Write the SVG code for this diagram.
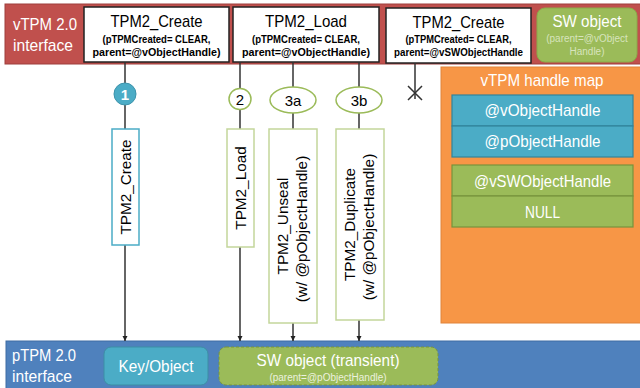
<svg xmlns="http://www.w3.org/2000/svg" width="640" height="388" viewBox="0 0 640 388">
<defs>
<marker id="arr" viewBox="0 0 10 10" refX="10" refY="5" markerWidth="5" markerHeight="6" markerUnits="userSpaceOnUse" orient="auto"><path d="M0,0 L10,5 L0,10 z" fill="#222"/></marker>
<style>
text{font-family:"Liberation Sans",Arial,sans-serif}
.w{fill:#fff}
.k{fill:#000}
.t{font-size:15.3px}
.h{font-size:17px}
.b{font-size:10.5px;font-weight:bold;fill:#000}
.sm{font-size:10px}
.c{text-anchor:middle}
.cmd{fill:#fff;stroke:#222;stroke-width:1.5}
.vb{fill:#fff;stroke:#C3D69B;stroke-width:1.5}
.ln{stroke:#333;stroke-width:1.5;fill:none}
.row{stroke-width:1.2}
.num{font-size:15px}
</style>
</defs>
<!-- bars -->
<g id="vtpm-bar">
<rect x="5" y="4" width="636" height="60" fill="#C0504D" stroke="#9E3F3C" stroke-width="1"/>
<text class="h w" x="13" y="30" textLength="64" lengthAdjust="spacingAndGlyphs">vTPM 2.0</text>
<text class="h w" x="13" y="51" textLength="60" lengthAdjust="spacingAndGlyphs">interface</text>
</g>
<g id="ptpm-bar">
<rect x="6" y="341" width="635" height="48" fill="#4F81BD" stroke="#3F6CA3" stroke-width="1"/>
<text class="h w" x="12" y="361" textLength="64" lengthAdjust="spacingAndGlyphs">pTPM 2.0</text>
<text class="h w" x="12" y="382" textLength="60" lengthAdjust="spacingAndGlyphs">interface</text>
</g>
<!-- top command boxes -->
<g id="cmd1">
<rect class="cmd" x="84" y="7" width="145" height="55"/>
<text class="h k c" x="156.5" y="27" textLength="92" lengthAdjust="spacingAndGlyphs">TPM2_Create</text>
<text class="b c" x="156.5" y="43" textLength="108" lengthAdjust="spacingAndGlyphs">(pTPMCreated= CLEAR,</text>
<text class="b c" x="156.5" y="56" textLength="128" lengthAdjust="spacingAndGlyphs">parent=@vObjectHandle)</text>
</g>
<g id="cmd2">
<rect class="cmd" x="233" y="7" width="146" height="55"/>
<text class="h k c" x="306" y="27" textLength="82" lengthAdjust="spacingAndGlyphs">TPM2_Load</text>
<text class="b c" x="306" y="43" textLength="108" lengthAdjust="spacingAndGlyphs">(pTPMCreated= CLEAR,</text>
<text class="b c" x="306" y="56" textLength="128" lengthAdjust="spacingAndGlyphs">parent=@vObjectHandle)</text>
</g>
<g id="cmd3">
<rect class="cmd" x="386" y="8" width="145" height="55"/>
<text class="h k c" x="458.5" y="28" textLength="92" lengthAdjust="spacingAndGlyphs">TPM2_Create</text>
<text class="b c" x="458.5" y="43" textLength="106" lengthAdjust="spacingAndGlyphs">(pTPMCreated= CLEAR,</text>
<text class="b c" x="458.5" y="56" textLength="129" lengthAdjust="spacingAndGlyphs">parent=@vSWObjectHandle</text>
</g>
<g id="sw-top">
<rect x="537" y="8" width="100" height="54" rx="8" fill="#9BBB59" stroke="#8AAA4A" stroke-width="1"/>
<text class="h w c" x="587" y="27" textLength="69" lengthAdjust="spacingAndGlyphs">SW object</text>
<text class="sm c" x="587" y="42" fill="#D7E4BD">(parent=@vObject</text>
<text class="sm c" x="587" y="55" fill="#D7E4BD">Handle)</text>
</g>
<!-- connectors -->
<g id="connectors">
<line class="ln" x1="125" y1="62" x2="125" y2="83"/>
<line class="ln" x1="125" y1="105" x2="125" y2="129"/>
<line class="ln" x1="125" y1="245" x2="125" y2="341" marker-end="url(#arr)"/>
<line class="ln" x1="240" y1="62" x2="240" y2="88"/>
<line class="ln" x1="240" y1="110" x2="240" y2="129"/>
<line class="ln" x1="240" y1="247" x2="240" y2="341" marker-end="url(#arr)"/>
<line class="ln" x1="293" y1="62" x2="293" y2="87"/>
<line class="ln" x1="293" y1="113" x2="293" y2="129"/>
<line class="ln" x1="293" y1="323" x2="293" y2="341" marker-end="url(#arr)"/>
<line class="ln" x1="359" y1="62" x2="359" y2="87"/>
<line class="ln" x1="359" y1="113" x2="359" y2="129"/>
<line class="ln" x1="359" y1="320" x2="359" y2="341" marker-end="url(#arr)"/>
<line class="ln" x1="415" y1="63" x2="415" y2="99"/>
<path class="ln" d="M408,86 L422,100 M422,86 L408,100"/>
</g>
<!-- step markers -->
<g id="step1">
<circle cx="125" cy="94" r="11" fill="#4BACC6" stroke="#3D93AB" stroke-width="1"/>
<text class="w c num" x="125" y="99.5" style="font-weight:bold">1</text>
</g>
<g id="step2">
<ellipse cx="240" cy="99" rx="11" ry="10.5" fill="#fff" stroke="#9BBB59" stroke-width="1.5"/>
<text class="k c num" x="240" y="104.5">2</text>
</g>
<g id="step3a">
<ellipse cx="293" cy="100" rx="23" ry="13" fill="#fff" stroke="#9BBB59" stroke-width="1.5"/>
<text class="k c num" x="293" y="105.5">3a</text>
</g>
<g id="step3b">
<ellipse cx="359" cy="100" rx="23" ry="13" fill="#fff" stroke="#9BBB59" stroke-width="1.5"/>
<text class="k c num" x="359" y="105.5">3b</text>
</g>
<!-- vertical boxes -->
<g id="v-create">
<rect x="112" y="129" width="27" height="116" fill="#fff" stroke="#4BACC6" stroke-width="1.5"/>
<text class="t k c" transform="translate(131,187) rotate(-90)">TPM2_Create</text>
</g>
<g id="v-load">
<rect class="vb" x="227" y="129" width="27" height="118"/>
<text class="t k c" transform="translate(246,188) rotate(-90)">TPM2_Load</text>
</g>
<g id="v-unseal">
<rect class="vb" x="269" y="129" width="48" height="194"/>
<text class="t k c" transform="translate(288,226) rotate(-90)">TPM2_Unseal</text>
<text class="t k c" transform="translate(307,229) rotate(-90)">(w/ @pObjectHandle)</text>
</g>
<g id="v-duplicate">
<rect class="vb" x="336" y="129" width="48" height="191"/>
<text class="t k c" transform="translate(355,224.5) rotate(-90)">TPM2_Duplicate</text>
<text class="t k c" transform="translate(374,227) rotate(-90)">(w/ @pObjectHandle)</text>
</g>
<!-- handle map -->
<g id="handle-map">
<rect x="441" y="67" width="200" height="256" fill="#F79646" stroke="#E0833A" stroke-width="1"/>
<text class="h w c" x="542" y="86" textLength="123" lengthAdjust="spacingAndGlyphs">vTPM handle map</text>
<rect class="row" x="452" y="95" width="181" height="31" fill="#4BACC6" stroke="#31849B"/>
<text class="h w c" x="542.5" y="116" textLength="116" lengthAdjust="spacingAndGlyphs">@vObjectHandle</text>
<rect class="row" x="452" y="126" width="181" height="31" fill="#4BACC6" stroke="#31849B"/>
<text class="h w c" x="542.5" y="147" textLength="116" lengthAdjust="spacingAndGlyphs">@pObjectHandle</text>
<rect class="row" x="452" y="165" width="181" height="31" fill="#9BBB59" stroke="#77933C"/>
<text class="h w c" x="542.5" y="187" textLength="137" lengthAdjust="spacingAndGlyphs">@vSWObjectHandle</text>
<rect class="row" x="452" y="196" width="181" height="31" fill="#9BBB59" stroke="#77933C"/>
<text class="h w c" x="542.5" y="218" textLength="35" lengthAdjust="spacingAndGlyphs">NULL</text>
</g>
<!-- bottom objects -->
<g id="key-object">
<rect x="104" y="347" width="104" height="38" rx="7" fill="#4BACC6" stroke="#3D8EA5" stroke-width="1"/>
<text class="h w c" x="156" y="372" textLength="75" lengthAdjust="spacingAndGlyphs">Key/Object</text>
</g>
<g id="sw-transient">
<rect x="219" y="347" width="219" height="38" rx="7" fill="#9BBB59" stroke="#77933C" stroke-width="1" stroke-dasharray="3 2"/>
<text class="h w c" x="328" y="366" textLength="143" lengthAdjust="spacingAndGlyphs">SW object (transient)</text>
<text class="sm c" x="328" y="381" fill="#EBF1DE">(parent=@pObjectHandle)</text>
</g>
</svg>
